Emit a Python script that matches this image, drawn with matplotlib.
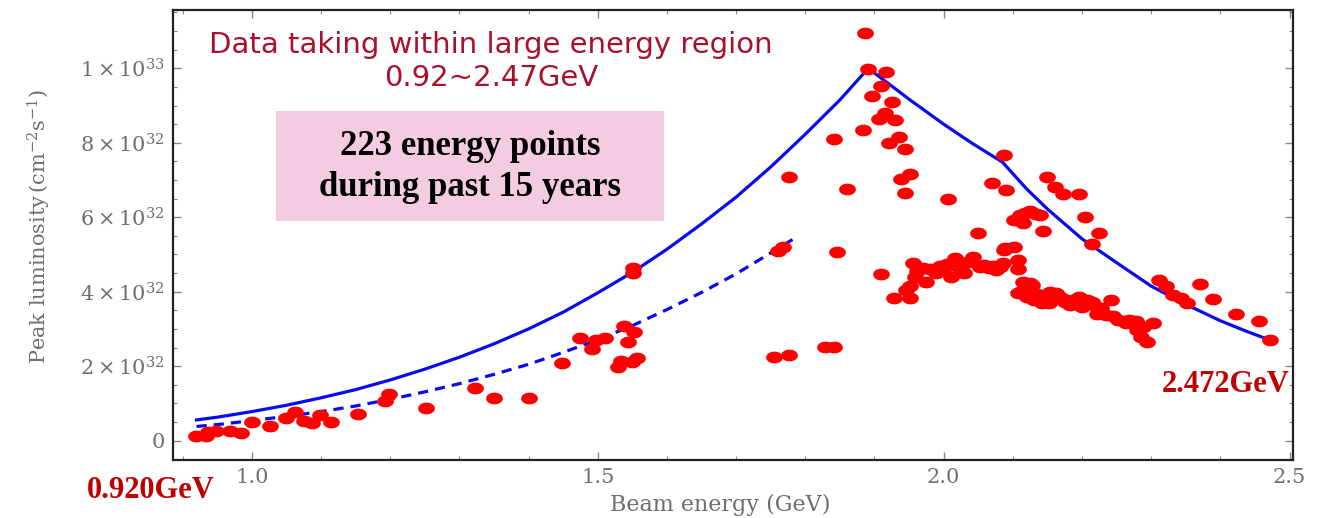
import numpy as np
import matplotlib
matplotlib.use("Agg")
import matplotlib.pyplot as plt
from matplotlib.path import Path
from matplotlib.ticker import MultipleLocator, FixedLocator

plt.rcParams['mathtext.fontset'] = 'dejavuserif'

# beam energy (GeV) and peak luminosity (1e32 cm^-2 s^-1) of the data points
energy = [0.919, 0.934, 0.936, 0.948, 0.969, 0.985, 1.000, 1.026, 1.049, 1.062,
          1.075, 1.087, 1.098, 1.115, 1.153, 1.192, 1.198, 1.251, 1.323, 1.350,
          1.400, 1.449, 1.475, 1.491, 1.498, 1.511, 1.529, 1.534, 1.538, 1.543,
          1.552, 1.549, 1.557, 1.551, 1.551, 1.755, 1.776, 1.761, 1.768, 1.777,
          1.829, 1.842, 1.842, 1.846, 1.861, 1.884, 1.886, 1.890, 1.917, 1.909,
          1.897, 1.925, 1.915, 1.907, 1.930, 1.935, 1.921, 1.944, 1.951, 1.938,
          1.944, 1.910, 1.928, 1.952, 1.951, 1.958, 1.956, 1.970, 1.975, 1.989,
          1.999, 2.006, 2.011, 2.016, 2.025, 2.030, 2.042, 2.050, 2.052, 2.066,
          2.070, 2.076, 2.082, 2.086, 2.087, 2.087, 2.088, 2.090, 2.101, 2.101,
          2.108, 2.108, 2.108, 2.108, 2.111, 2.111, 2.115, 2.115, 2.120, 2.125,
          2.125, 2.127, 2.130, 2.140, 2.142, 2.144, 2.149, 2.153, 2.154, 2.161,
          2.163, 2.173, 2.173, 2.175, 2.183, 2.185, 2.195, 2.195, 2.200, 2.205,
          2.207, 2.214, 2.215, 2.217, 2.222, 2.224, 2.234, 2.242, 2.252, 2.263,
          2.278, 2.280, 2.285, 2.294, 2.302, 2.311, 2.321, 2.331, 2.343, 2.352,
          2.371, 2.390, 2.422, 2.456, 2.472,
          1.945, 1.962, 1.980, 1.995, 2.005, 2.020, 2.035, 2.058, 2.072, 2.118,
          2.133, 2.118, 2.135, 2.147, 2.168, 2.190, 2.228, 2.245, 2.268, 2.288]
lumi = [0.13, 0.13, 0.24, 0.27, 0.26, 0.20, 0.49, 0.39, 0.62, 0.78,
        0.53, 0.48, 0.69, 0.49, 0.72, 1.07, 1.25, 0.87, 1.41, 1.15,
        1.14, 2.08, 2.77, 2.45, 2.70, 2.77, 1.99, 2.14, 3.08, 2.64,
        2.91, 2.12, 2.21, 4.63, 4.50, 2.24, 2.29, 5.10, 5.20, 7.07,
        2.52, 2.51, 8.10, 5.06, 6.75, 8.34, 10.94, 9.98, 9.91, 9.53,
        9.26, 9.10, 8.79, 8.64, 8.61, 8.16, 7.99, 7.82, 7.16, 7.02,
        6.64, 4.48, 3.82, 3.82, 4.14, 4.40, 4.76, 4.63, 4.27, 4.49,
        4.58, 6.49, 4.40, 4.90, 4.58, 4.49, 4.92, 5.59, 4.67, 4.63,
        6.92, 4.58, 4.67, 4.78, 5.12, 7.67, 5.17, 6.73, 5.21, 5.93,
        4.85, 4.60, 5.98, 3.97, 6.06, 4.00, 4.27, 5.84, 3.87, 6.18,
        4.23, 4.18, 3.78, 6.06, 3.69, 5.64, 7.07, 3.69, 4.00, 6.82,
        3.96, 6.62, 3.80, 3.73, 3.64, 3.78, 6.62, 3.87, 3.60, 6.00,
        3.78, 3.73, 5.28, 3.64, 3.40, 5.57, 3.38, 3.78, 3.24, 3.17,
        3.20, 2.97, 2.79, 2.66, 3.15, 4.32, 4.14, 3.91, 3.82, 3.69,
        4.20, 3.80, 3.40, 3.21, 2.70,
        4.05, 4.55, 4.62, 4.70, 4.75, 4.70, 4.80, 4.72, 4.70, 4.12,
        6.10, 6.12, 3.95, 3.85, 3.85, 3.72, 3.55, 3.35, 3.25, 3.05]

# design luminosity curve (solid)
design_e = [0.92, 0.95, 1.0, 1.05, 1.1, 1.15, 1.2, 1.25, 1.3, 1.35, 1.4, 1.45,
            1.5, 1.55, 1.6, 1.65, 1.7, 1.75, 1.8, 1.85, 1.891,
            1.95, 2.0, 2.04, 2.085, 2.12, 2.15, 2.2, 2.25, 2.3, 2.35, 2.4, 2.44, 2.472]
design_l = [0.556, 0.63, 0.78, 0.95, 1.15, 1.37, 1.63, 1.92, 2.24, 2.60, 3.00, 3.45,
            3.97, 4.52, 5.14, 5.82, 6.54, 7.35, 8.23, 9.15, 10.0,
            9.17, 8.50, 8.00, 7.48, 6.76, 6.22, 5.42, 4.78, 4.15, 3.66, 3.22, 2.92, 2.70]

# lower curve (dashed)
low_e = [0.92, 0.96, 1.0, 1.05, 1.1, 1.15, 1.2, 1.25, 1.3, 1.35, 1.4, 1.45,
         1.5, 1.55, 1.6, 1.65, 1.7, 1.75, 1.79]
low_l = [0.38, 0.45, 0.54, 0.65, 0.78, 0.93, 1.11, 1.31, 1.53, 1.78, 2.05, 2.37,
         2.71, 3.09, 3.52, 3.98, 4.48, 5.04, 5.50]

ytick_vals = [0, 2, 4, 6, 8, 10]
ytick_text = ['$0$', r'$2\times10^{32}$', r'$4\times10^{32}$', r'$6\times10^{32}$',
              r'$8\times10^{32}$', r'$1\times10^{33}$']
xtick_vals = [1.0, 1.5, 2.0, 2.5]

W, H = 1317, 518
fig = plt.figure(figsize=(W / 100, H / 100), dpi=100)
ax = fig.add_axes([173 / W, 1 - 460 / H, 1120 / W, 450 / H])

t = np.linspace(0, 2 * np.pi, 60)
ellipse = Path(np.column_stack([1.42 * np.cos(t), np.sin(t)]), closed=True)

ax.plot(design_e, design_l, color='#0A0AF0', lw=2.3, zorder=2)
ax.plot(low_e, low_l, color='#0A0AF0', lw=2.3, dashes=(3.2, 2.2), zorder=2)
ax.scatter(energy, lumi, s=145, marker=ellipse, color='#FF0000', lw=0, zorder=3)

ax.set_xlim(0.886, 2.505)
ax.set_ylim(-0.52, 11.566)

gray = '#6E6E6E'
ax.xaxis.set_major_locator(FixedLocator(xtick_vals))
ax.xaxis.set_minor_locator(MultipleLocator(0.1))
ax.set_xticklabels(['1.0', '1.5', '2.0', '2.5'])
ax.yaxis.set_major_locator(FixedLocator(ytick_vals))
ax.yaxis.set_minor_locator(MultipleLocator(0.5))
ax.set_yticklabels(ytick_text)
ax.tick_params(which='both', direction='in', top=True, right=True, color='#888888',
               labelcolor=gray)
ax.tick_params(axis='x', labelsize=15)
ax.tick_params(axis='y', labelsize=15)
ax.tick_params(which='major', length=6, width=1.0, pad=6)
ax.tick_params(which='minor', length=3, width=0.8)
for lab in ax.get_xticklabels() + ax.get_yticklabels():
    lab.set_family('DejaVu Serif')
for s in ax.spines.values():
    s.set_color('#222222')
    s.set_linewidth(1.6)

ax.set_xlabel('Beam energy (GeV)', family='DejaVu Serif', color=gray, fontsize=16,
              va='center')
ax.xaxis.set_label_coords(0.489, -0.10)
ax.set_ylabel(r'Peak luminosity$\,(\mathrm{cm}^{-2}\mathrm{s}^{-1})$', family='DejaVu Serif',
              color=gray, fontsize=15, va='center')
ax.yaxis.set_label_coords(-0.119, 0.52)

# pink box with text
ax.add_patch(plt.Rectangle((0.092, 0.531), 0.346, 0.245, transform=ax.transAxes,
                           facecolor='#F4CCE1', edgecolor='none', zorder=1))
fig.text(470 / W, 1 - 167 / H, '223 energy points\nduring past 15 years', ha='center',
         va='center', family='Liberation Serif', weight='bold', fontsize=25,
         linespacing=1.3, color='black')

red_txt = '#A8102C'
fig.text(491 / W, 1 - 45 / H, 'Data taking within large energy region', ha='center',
         va='center', fontsize=21, color=red_txt, family='DejaVu Sans')
fig.text(491 / W, 1 - 78 / H, '0.92~2.47GeV', ha='center', va='center', fontsize=21,
         color=red_txt, family='DejaVu Sans')

fig.text(151 / W, 1 - 490 / H, '0.920GeV', ha='center', va='center', fontsize=22,
         weight='bold', family='Liberation Serif', color='#C00000')
fig.text(1226 / W, 1 - 385 / H, '2.472GeV', ha='center', va='center', fontsize=22,
         weight='bold', family='Liberation Serif', color='#C00000')

fig.savefig('out.png', dpi=100)
